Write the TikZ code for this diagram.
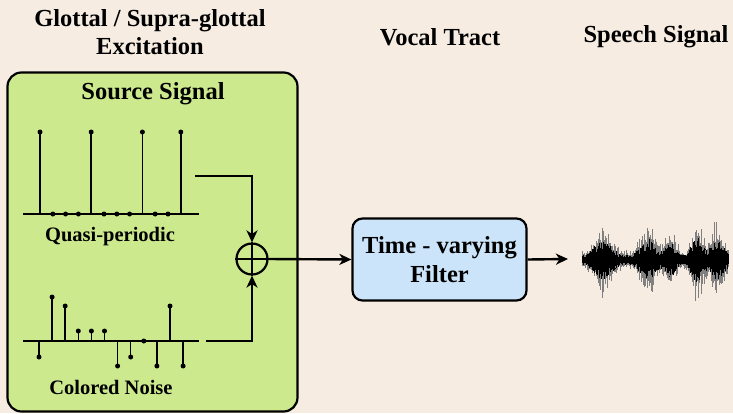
\documentclass[tikz,border=0pt]{standalone}
\usepackage{fontspec}
\setmainfont{LiberationSerif}[Extension=.ttf,UprightFont=*-Regular,BoldFont=*-Bold]
\usetikzlibrary{arrows.meta}
\definecolor{bgcream}{HTML}{F6ECE1}
\definecolor{srcgreen}{HTML}{CDE98E}
\definecolor{filtblue}{HTML}{CCE4FA}
\tikzset{
  head/.style={font=\bfseries\fontsize{24.5}{28.5}\selectfont, align=center},
  sublabel/.style={font=\bfseries\fontsize{20.5}{24}\selectfont},
  sig/.style={line width=2.4pt, -{Stealth[length=12pt,width=11pt,inset=3.5pt]}},
  stem/.style={line width=1.5pt},
  axisline/.style={line width=2pt},
  tip/.style={circle, fill=black, inner sep=0pt, minimum size=5pt},
}
\begin{document}
\begin{tikzpicture}[x=1pt,y=-1pt]
\fill[bgcream] (0,0) rectangle (733,413);
\useasboundingbox (0,0) rectangle (733,413);

% headings
\node[head] (exc) at (150,32) {Glottal / Supra-glottal\\Excitation};
\node[head] (vt) at (440,37) {Vocal Tract};
\node[head] (sp) at (656,37) {Speech Signal};

% source box
\node[draw, line width=2.2pt, rounded corners=14pt, fill=srcgreen,
      minimum width=290, minimum height=339] (src) at (152.5,242) {};
\node[head] (srclbl) at (153,94) {Source Signal};

% quasi-periodic train
\draw[axisline] (23,214) -- (199,214);
\foreach \i/\v in {0/82,1/0,2/0,3/0,4/82,5/0,6/0,7/0,8/82,9/0,10/0,11/82}
  \draw[stem] (40+12.8*\i,214) -- ++(0,-\v) node[tip] (q\i) {};
\node[sublabel] (qlbl) at (110,237) {Quasi-periodic};

% colored noise
\draw[axisline] (23,341) -- (199,341);
\foreach \i/\v in {0/-16,1/44,2/35,3/10,4/10,5/10,6/-25,7/-16,8/0,9/-25,10/35,11/-25}
  \draw[stem] (39+13.1*\i,341) -- ++(0,-\v) node[tip] (n\i) {};
\node[sublabel] (nlbl) at (111,387) {Colored Noise};

% adder
\node[draw, circle, line width=2.2pt, minimum size=31, inner sep=0pt] (sum) at (252,259) {};
\draw[line width=2.2pt] (sum.north) -- (sum.south) (sum.west) -- (sum.east);
\coordinate (qout) at (195,176);
\coordinate (nout) at (206,341);
\draw[sig] (qout) -| (sum.north);
\draw[sig] (nout) -| (sum.south);

% vocal tract filter
\node[head, draw, line width=2.2pt, rounded corners=10pt, fill=filtblue,
      minimum width=174, minimum height=82] (filt) at (439.5,259.5) {Time - varying\\Filter};
\draw[sig] (sum.east) -- (filt.west);
\coordinate (wav) at (568,259);
\draw[sig] (filt.east) -- (wav);

% speech waveform
\pgfmathsetseed{11}
\foreach \x in {582,582.6,...,728.5} {
  \pgfmathsetmacro{\env}{5+15*max(0,1-abs(\x-603)/17)+15*max(0,1-abs(\x-648)/15)+13*max(0,1-abs(\x-670)/10)+17*max(0,1-abs(\x-697)/11)+15*max(0,1-abs(\x-717)/13)}
  \pgfmathsetmacro{\up}{\env*(0.9+1.4*rnd*rnd)}
  \pgfmathsetmacro{\dn}{\env*(0.9+1.4*rnd*rnd)}
  \pgfmathsetmacro{\cu}{\env*(0.5+0.6*rnd)}
  \pgfmathsetmacro{\cd}{\env*(0.5+0.6*rnd)}
  \draw[black!50, line width=0.6pt] (\x,260-\up) -- (\x,260+\dn);
  \draw[black, line width=0.8pt] (\x,260-\cu) -- (\x,260+\cd);
}
\end{tikzpicture}
\end{document}
